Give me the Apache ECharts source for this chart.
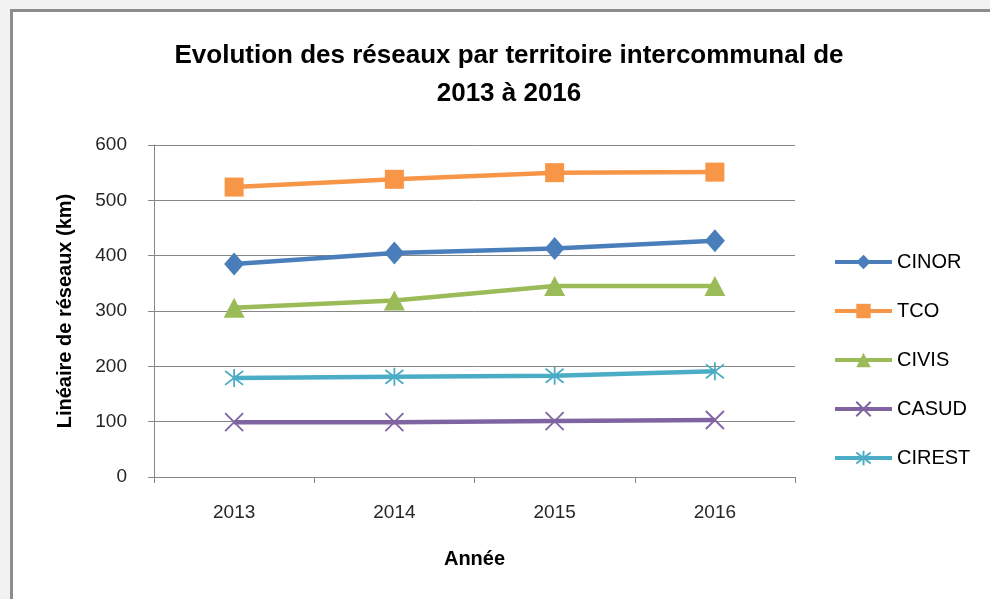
<!DOCTYPE html>
<html>
<head>
<meta charset="utf-8">
<script src="https://cdn.jsdelivr.net/npm/echarts@6/dist/echarts.min.js"></script>
<style>
  html, body { margin: 0; padding: 0; background: #f2f2f2; }
  #frame {
    position: absolute; left: 10px; top: 9px; right: 0; bottom: 0;
    background: #fff; border-left: 3px solid #8c8c8c; border-top: 3px solid #8c8c8c;
  }
  #chart { position: absolute; left: 0; top: 0; width: 990px; height: 599px; }
</style>
</head>
<body>
<div id="frame"></div>
<div id="chart"></div>
<script>
const years = ['2013', '2014', '2015', '2016']
const yTicks = [0, 100, 200, 300, 400, 500, 600]

const cinor = [385, 405, 413, 427]
const tco = [524, 538, 550, 551]
const civis = [306, 319, 345, 345]
const casud = [99, 99, 101, 103]
const cirest = [179, 181, 183, 191]

const colors = {
  cinor: '#4a7ebb',
  tco: '#f79646',
  civis: '#9bbb59',
  casud: '#8064a2',
  cirest: '#4bacc6'
}

const font = "'Liberation Sans', Arial, sans-serif"
const crossPath = 'path://M0 0 L10 10 M10 0 L0 10'
const starPath = 'path://M0 0 L10 10 M10 0 L0 10 M5 -1.5 L5 11.5'

function makeSeries(name, data, color, symbol, size, stroke) {
  return {
    name,
    type: 'line',
    data,
    symbol,
    symbolSize: size,
    lineStyle: { color, width: 4.5 },
    itemStyle: stroke
      ? { color: 'none', borderColor: color, borderWidth: 1.8 }
      : { color, borderWidth: 0 },
    emphasis: { disabled: true },
    z: 3
  }
}

const chart = echarts.init(document.getElementById('chart'), null, { renderer: 'canvas' })

chart.setOption({
  animation: false,
  backgroundColor: 'transparent',
  textStyle: { fontFamily: font },
  title: {
    text: 'Evolution des réseaux par territoire intercommunal de\n2013 à 2016',
    left: 504,
    top: 32,
    textAlign: 'center',
    textStyle: {
      fontFamily: font,
      fontSize: 26,
      fontWeight: 'bold',
      color: '#000',
      lineHeight: 38
    }
  },
  legend: {
    orient: 'vertical',
    left: 833,
    top: 252,
    padding: 0,
    itemWidth: 57,
    itemHeight: 18,
    itemGap: 29,
    lineStyle: { width: 4 },
    textStyle: { fontFamily: font, fontSize: 20, color: '#000', lineHeight: 18, padding: [0, 0, 0, 0] },
    data: ['CINOR', 'TCO', 'CIVIS', 'CASUD', 'CIREST']
  },
  grid: { left: 154, right: 195, top: 145, bottom: 122, containLabel: false },
  xAxis: {
    type: 'category',
    data: years,
    boundaryGap: true,
    name: 'Année',
    nameLocation: 'middle',
    nameGap: 72,
    nameTextStyle: { fontFamily: font, fontSize: 20, fontWeight: 'bold', color: '#000' },
    axisLine: { lineStyle: { color: '#868686', width: 1 } },
    axisTick: { show: true, length: 6, lineStyle: { color: '#868686' } },
    axisLabel: { fontFamily: font, fontSize: 19, color: '#262626', margin: 26 }
  },
  yAxis: {
    type: 'value',
    min: yTicks[0],
    max: yTicks[yTicks.length - 1],
    interval: 100,
    name: 'Linéaire de réseaux (km)',
    nameLocation: 'middle',
    nameGap: 79,
    nameRotate: 90,
    nameTextStyle: { fontFamily: font, fontSize: 20, fontWeight: 'bold', color: '#000' },
    axisLine: { show: true, lineStyle: { color: '#868686', width: 1 } },
    axisTick: { show: true, length: 6, lineStyle: { color: '#868686' } },
    axisLabel: { fontFamily: font, fontSize: 19, color: '#262626', margin: 27 },
    splitLine: { lineStyle: { color: '#868686', width: 1 } }
  },
  series: [
    makeSeries('CINOR', cinor, colors.cinor, 'diamond', [20, 23], false),
    makeSeries('TCO', tco, colors.tco, 'rect', 19, false),
    makeSeries('CIVIS', civis, colors.civis, 'triangle', [21, 20], false),
    makeSeries('CASUD', casud, colors.casud, crossPath, 18, true),
    makeSeries('CIREST', cirest, colors.cirest, starPath, 18, true)
  ]
})
</script>
</body>
</html>
